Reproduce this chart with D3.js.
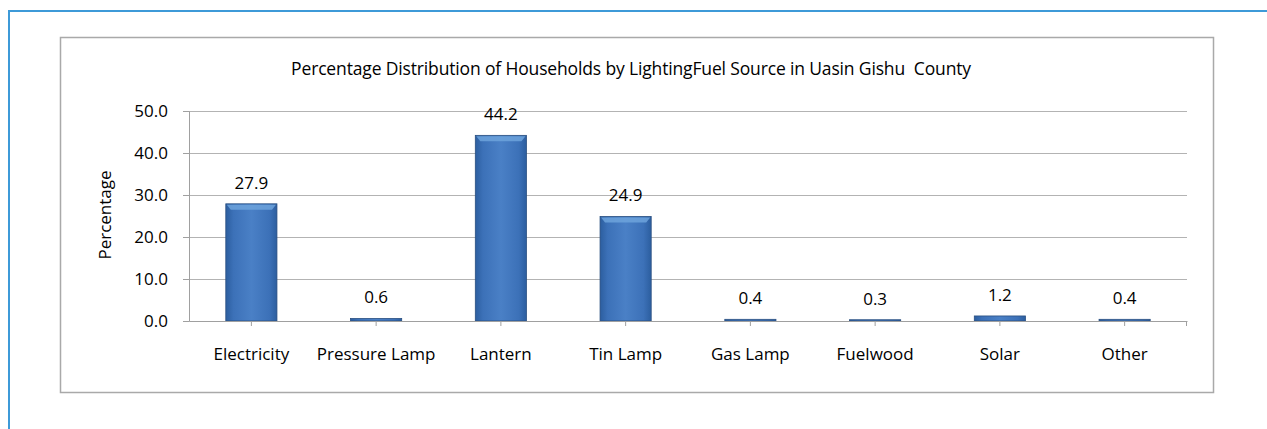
<!DOCTYPE html>
<html>
<head>
<meta charset="utf-8">
<script src="https://cdn.jsdelivr.net/npm/d3@7"></script>
<style>
  body { margin: 0; background: #fff; }
  text { font-family: "Open Sans", sans-serif; fill: #000; }
</style>
</head>
<body>
<div id="canvas"></div>
<script>
const categories = ["Electricity", "Pressure Lamp", "Lantern", "Tin Lamp", "Gas Lamp", "Fuelwood", "Solar", "Other"];
const values = [27.9, 0.6, 44.2, 24.9, 0.4, 0.3, 1.2, 0.4];
const yTicks = [0, 10, 20, 30, 40, 50];
const title = "Percentage Distribution of Households by LightingFuel Source in Uasin Gishu  County";
const yTitle = "Percentage";

const width = 1267;
const height = 429;
const margin = { top: 111, left: 189, bottom: 108, right: 80 };
const iwidth = width - margin.left - margin.right;
const iheight = height - margin.top - margin.bottom;

const data = categories.map((c, i) => ({ cat: c, value: values[i] }));

const svg = d3.select("#canvas").append("svg")
  .attr("width", width)
  .attr("height", height);

// outer blue frame
svg.append("path")
  .attr("d", `M9,${height + 2} L9,11 L${width + 2},11`)
  .attr("fill", "none")
  .attr("stroke", "#3d9ad8")
  .attr("stroke-width", 2);

// chart box
svg.append("rect")
  .attr("x", 60.5).attr("y", 37.5)
  .attr("width", 1153).attr("height", 355)
  .attr("fill", "#fff")
  .attr("stroke", "#a9a9a9")
  .attr("stroke-width", 1.5);

const defs = svg.append("defs");
const grad = defs.append("linearGradient").attr("id", "barGrad")
  .attr("x1", "0%").attr("x2", "100%").attr("y1", "0%").attr("y2", "0%");
grad.append("stop").attr("offset", "0%").attr("stop-color", "#2c5e9f");
grad.append("stop").attr("offset", "15%").attr("stop-color", "#3c71b8");
grad.append("stop").attr("offset", "50%").attr("stop-color", "#4a80c6");
grad.append("stop").attr("offset", "85%").attr("stop-color", "#3c71b8");
grad.append("stop").attr("offset", "100%").attr("stop-color", "#2c5e9f");

const g = svg.append("g").attr("transform", `translate(${margin.left},${margin.top})`);

const x = d3.scaleBand().domain(categories).range([0, iwidth]).paddingInner(0.59).paddingOuter(0.295);
const y = d3.scaleLinear().domain([0, 50]).range([iheight, 0]);

// gridlines
g.append("g").selectAll("line").data(yTicks.filter(d => d > 0)).enter().append("line")
  .attr("x1", -6).attr("x2", iwidth)
  .attr("y1", d => Math.round(y(d)) + 0.5).attr("y2", d => Math.round(y(d)) + 0.5)
  .attr("stroke", "#b3b3b3").attr("stroke-width", 1);

// y axis
const yAxis = g.append("g")
  .call(d3.axisLeft(y).tickValues(yTicks).tickFormat(d3.format(".1f")).tickSize(6).tickPadding(15));
yAxis.select(".domain").attr("stroke", "#a0a0a0");
yAxis.selectAll(".tick line").attr("stroke", "#a0a0a0");
yAxis.selectAll("text").style("font-size", "17px").attr("fill", "#000");

// bars
const bars = g.selectAll(".bar").data(data).enter().append("g").attr("class", "bar");
bars.append("rect")
  .attr("x", d => x(d.cat))
  .attr("y", d => y(d.value))
  .attr("width", x.bandwidth())
  .attr("height", d => y(0) - y(d.value))
  .attr("fill", "url(#barGrad)")
  .attr("stroke", "#2a4f80")
  .attr("stroke-width", 0.8);
bars.filter(d => d.value > 5).append("path")
  .attr("d", d => {
    const x0 = x(d.cat), x1 = x0 + x.bandwidth(), y0 = y(d.value);
    return `M${x0 + 1},${y0 + 1} L${x1 - 1},${y0 + 1} L${x1 - 5},${y0 + 6} L${x0 + 5},${y0 + 6} Z`;
  })
  .attr("fill", "#6da3dc").attr("opacity", 0.85);

// value labels
bars.append("text")
  .attr("x", d => x(d.cat) + x.bandwidth() / 2)
  .attr("y", d => y(d.value) - 15)
  .attr("text-anchor", "middle")
  .style("font-size", "17px")
  .text(d => d.value.toFixed(1));

// x axis
const xAxis = g.append("g").attr("transform", `translate(0,${iheight})`)
  .call(d3.axisBottom(x).tickSize(5).tickPadding(22).tickSizeOuter(0));
xAxis.select(".domain").attr("stroke", "#a0a0a0");
xAxis.selectAll(".tick line").attr("stroke", "#a0a0a0");
xAxis.selectAll("text").style("font-size", "17px").attr("fill", "#000");
g.append("line").attr("x1", iwidth - 0.5).attr("x2", iwidth - 0.5).attr("y1", iheight).attr("y2", iheight + 5)
  .attr("stroke", "#a0a0a0");

// title
svg.append("text")
  .attr("x", 631).attr("y", 75)
  .attr("text-anchor", "middle")
  .style("font-size", "17.5px")
  .style("white-space", "pre")
  .style("letter-spacing", "-0.15px")
  .text(title);

// y axis title
svg.append("text")
  .attr("transform", "translate(111,215) rotate(-90)")
  .attr("text-anchor", "middle")
  .style("font-size", "17px")
  .text(yTitle);
</script>
</body>
</html>
